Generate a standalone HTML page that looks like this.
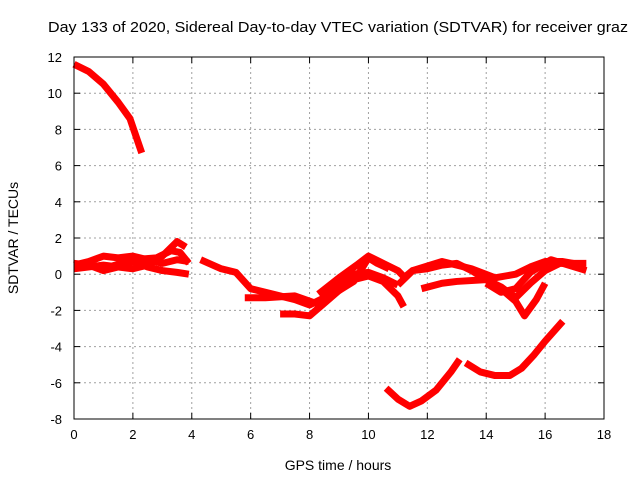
<!DOCTYPE html>
<html><head><meta charset="utf-8"><style>
body{margin:0;background:#fff;}
svg{display:block;font-family:"Liberation Sans",Arial,sans-serif;}
</style></head><body>
<svg id="chart" width="640" height="480">
<text x="48" y="32" font-size="15" textLength="580" lengthAdjust="spacingAndGlyphs">Day 133 of 2020, Sidereal Day-to-day VTEC variation (SDTVAR) for receiver graz</text>
<text x="338" y="470" font-size="14" text-anchor="middle">GPS time / hours</text>
<text transform="translate(18,238) rotate(-90)" font-size="14" text-anchor="middle">SDTVAR / TECUs</text>
<g id="grid"></g><g id="ticks"></g><g id="series"></g>
<rect x="74" y="57" width="530" height="362" fill="none" stroke="#000" stroke-width="1"/>
</svg>
<script>
const xTicks=[0,2,4,6,8,10,12,14,16,18];
const yTicks=[-8,-6,-4,-2,0,2,4,6,8,10,12];
const sA=[[0,11.6],[0.5,11.2],[1,10.5],[1.5,9.5],[1.9,8.6],[2.3,6.7]];
const sB=[[0,0.6],[0.5,0.5],[1,0.2],[1.5,0.4],[2,0.7],[2.5,0.4],[3,0.2],[3.5,0.1],[3.9,0.0]];
const sC=[[0,0.5],[0.5,0.7],[1,1.0],[1.5,0.9],[2,1.0],[2.5,0.8],[3,0.6],[3.5,0.8],[3.9,0.7]];
const sD=[[0,0.3],[1,0.5],[2,0.3],[2.5,0.5],[3,1.0],[3.5,1.8],[3.8,1.5]];
const sE=[[1,0.3],[2,0.8],[2.8,0.9],[3.3,1.3],[3.6,1.2],[3.9,0.6]];
const sF=[[4.3,0.8],[5,0.3],[5.5,0.1],[6,-0.8],[6.5,-1.0],[7,-1.2],[7.5,-1.4],[8,-1.7],[8.5,-1.3],[9,-0.5],[9.5,0],[10,0.1],[10.5,-0.2],[11,-0.6]];
const sG=[[5.8,-1.3],[6.5,-1.3],[7.5,-1.2],[8.2,-1.6],[9,-0.9],[9.5,-0.4],[10,0.9],[10.3,0.6],[10.7,0.3]];
const sH=[[7,-2.2],[7.5,-2.2],[8,-2.3],[8.5,-1.6],[9,-0.9],[9.5,-0.3],[10,-0.1],[10.5,-0.4],[11,-1.2],[11.2,-1.8]];
const sI=[[8.3,-1.1],[9,-0.2],[9.6,0.5],[10,1.0],[10.5,0.6],[11,0.2],[11.3,-0.3]];
const sJ=[[11.2,-0.2],[11.5,0.2],[12,0.3],[12.5,0.5],[13,0.6],[13.5,0.2],[14,-0.3],[14.5,-0.8],[15,-1.5],[15.3,-2.3],[15.7,-1.4],[16,-0.5]];
const sK=[[11.8,-0.8],[12.5,-0.5],[13,-0.4],[14,-0.3],[14.5,-0.7],[15,-1.3],[15.5,-0.5],[16,0.2],[16.5,0.6],[17.4,0.6]];
const sL=[[11,-0.6],[11.5,0.2],[12.5,0.7],[13.5,0.3],[14.3,-0.2],[15,0],[15.5,0.4],[16,0.7],[16.6,0.7],[17.3,0.5]];
const sM=[[14,-0.5],[14.5,-1],[15,-0.8],[15.5,0.1],[16.2,0.8],[16.8,0.5],[17.4,0.2]];
const sN=[[10.6,-6.3],[11,-6.9],[11.4,-7.3],[11.8,-7.0],[12.3,-6.4],[12.8,-5.4],[13.1,-4.7]];
const sO=[[13.3,-4.9],[13.8,-5.4],[14.3,-5.6],[14.8,-5.6],[15.2,-5.2],[15.6,-4.5],[16,-3.7],[16.6,-2.6]];
const seriesList=[sA,sB,sC,sD,sE,sF,sG,sH,sI,sJ,sK,sL,sM,sN,sO];
const X0=74,X1=604,Y0=57,Y1=419;
const xs=v=>X0+(v-0)/18*(X1-X0);
const ys=v=>Y1-(v+8)/20*(Y1-Y0);
const NS="http://www.w3.org/2000/svg";
function mk(t,a,p){const e=document.createElementNS(NS,t);for(const k in a)e.setAttribute(k,a[k]);p.appendChild(e);return e;}
const grid=document.getElementById('grid'),ticks=document.getElementById('ticks'),ser=document.getElementById('series');
xTicks.forEach(t=>{const x=xs(t);
 if(t>0&&t<18){const g=mk('line',{x1:x,x2:x,y1:Y0,y2:Y1,stroke:'#a0a0a0','stroke-dasharray':'2,3'},grid);
 
 }
 mk('line',{x1:x,x2:x,y1:Y1,y2:Y1-6,stroke:'#000'},ticks);
 mk('line',{x1:x,x2:x,y1:Y0,y2:Y0+6,stroke:'#000'},ticks);
 const l=mk('text',{x:x,y:Y1+20,'font-size':13,'text-anchor':'middle'},ticks);l.textContent=t;
 
 });
yTicks.forEach(t=>{const y=ys(t);
 if(t>-8&&t<12){const g=mk('line',{x1:X0,x2:X1,y1:y,y2:y,stroke:'#a0a0a0','stroke-dasharray':'2,3'},grid);
 
 }
 mk('line',{x1:X0,x2:X0+6,y1:y,y2:y,stroke:'#000'},ticks);
 mk('line',{x1:X1,x2:X1-6,y1:y,y2:y,stroke:'#000'},ticks);
 const l=mk('text',{x:X0-12,y:y+5,'font-size':13,'text-anchor':'end'},ticks);l.textContent=t;
 
 });
seriesList.forEach((s,i)=>{
 const p=mk('polyline',{points:s.map(d=>xs(d[0])+','+ys(d[1])).join(' '),fill:'none',stroke:'#ff0000','stroke-width':7,'stroke-linejoin':'round','stroke-linecap':'butt'},ser);
 
 
});
</script>
</body></html>
